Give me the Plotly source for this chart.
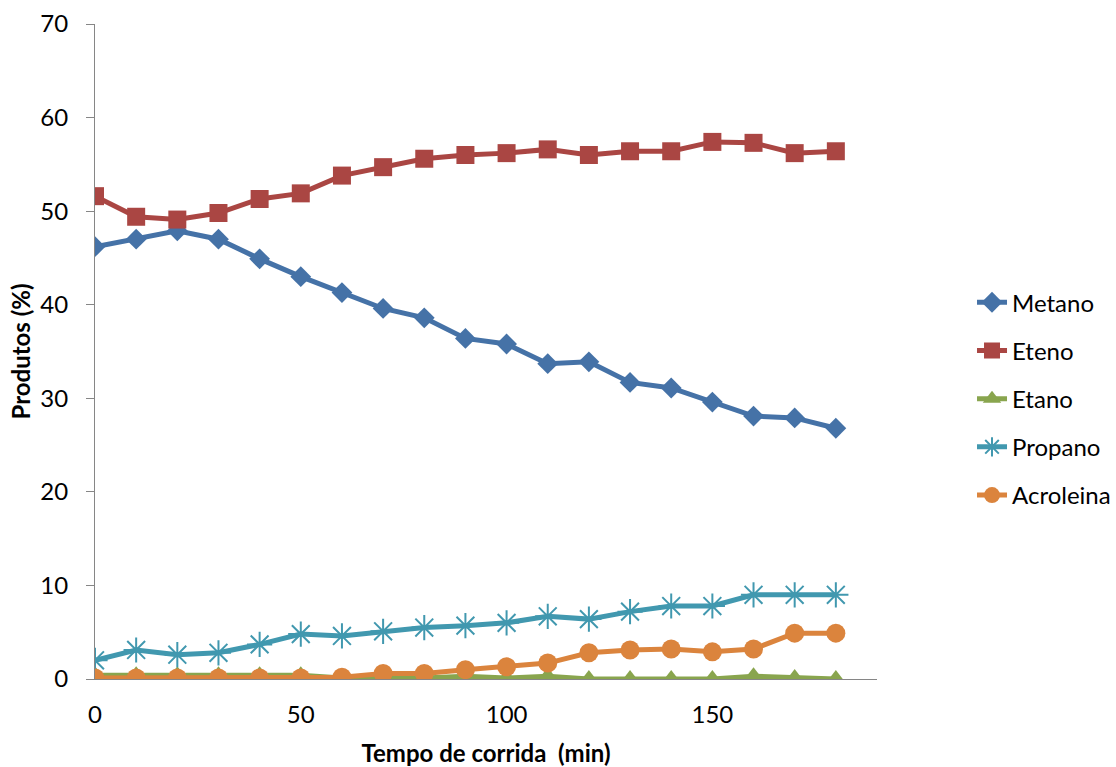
import plotly.graph_objects as go

tempo = [0, 10, 20, 30, 40, 50, 60, 70, 80, 90, 100, 110, 120, 130, 140, 150, 160, 170, 180]
metano = [46.2, 47.0, 47.9, 47.0, 44.9, 43.0, 41.3, 39.6, 38.6, 36.4, 35.8, 33.7, 33.9, 31.7, 31.1, 29.6, 28.1, 27.9, 26.8]
eteno = [51.6, 49.4, 49.1, 49.8, 51.3, 51.9, 53.8, 54.7, 55.6, 56.0, 56.2, 56.6, 56.0, 56.4, 56.4, 57.4, 57.3, 56.2, 56.4]
etano = [0.4, 0.4, 0.4, 0.4, 0.4, 0.4, 0.1, 0.1, 0.1, 0.3, 0.1, 0.3, 0.0, 0.0, 0.0, 0.0, 0.3, 0.1, 0.0]
propano = [2.0, 3.1, 2.6, 2.8, 3.7, 4.8, 4.6, 5.1, 5.5, 5.7, 6.0, 6.7, 6.4, 7.2, 7.8, 7.8, 9.0, 9.0, 9.0]
acroleina = [0.1, 0.1, 0.1, 0.1, 0.1, 0.1, 0.2, 0.6, 0.6, 1.0, 1.3, 1.7, 2.8, 3.1, 3.2, 2.9, 3.2, 4.9, 4.9]

x_ticks = [0, 50, 100, 150]
y_ticks = [0, 10, 20, 30, 40, 50, 60, 70]

series = [
    ("Metano", metano, "#4572A7", "diamond", 16, 0),
    ("Eteno", eteno, "#AA4643", "square", 18, 0),
    ("Etano", etano, "#89A54E", "triangle-up", 18, 0),
    ("Propano", propano, "#4198AF", "asterisk-open", 21, 2),
    ("Acroleina", acroleina, "#DB843D", "circle", 19, 0),
]

FONT = "Lato, 'Liberation Sans', sans-serif"

fig = go.Figure()
for i, (name, vals, color, sym, size, lw) in enumerate(series):
    marker = dict(symbol=sym, size=size, color=color)
    if lw:
        marker["line"] = dict(color=color, width=lw)
    fig.add_trace(go.Scatter(
        x=tempo, y=vals, name=name, mode="lines+markers",
        line=dict(color=color, width=5),
        marker=marker,
        legendgroup="g%d" % i,
    ))

fig.update_layout(
    width=1116, height=767,
    margin=dict(l=95, r=239, t=24, b=88, autoexpand=False),
    paper_bgcolor="white", plot_bgcolor="white",
    font=dict(family=FONT, size=24, color="#000000"),
    showlegend=True,
    legend=dict(
        x=1.1215, xanchor="left", y=0.428, yanchor="middle",
        font=dict(family=FONT, size=24, color="#000000"),
        tracegroupgap=14, traceorder="grouped",
        bgcolor="rgba(0,0,0,0)",
    ),
    xaxis=dict(
        range=[0, 190], tickvals=x_ticks, ticktext=[str(v) for v in x_ticks],
        showgrid=False, zeroline=False, showline=True, linecolor="#868686", linewidth=1,
        ticks="", ticklabelstandoff=14, automargin=False,
        tickfont=dict(family=FONT, size=24, color="#000000"),
        title=dict(text="<b>Tempo de corrida  (min)</b>", font=dict(family=FONT, size=24, color="#000000"), standoff=21),
    ),
    yaxis=dict(
        range=[0, 70], tickvals=y_ticks, ticktext=[str(v) for v in y_ticks],
        showgrid=False, zeroline=False, showline=True, linecolor="#868686", linewidth=1,
        ticks="outside", ticklen=8, tickcolor="#868686", ticklabelstandoff=13, automargin=False,
        tickfont=dict(family=FONT, size=24, color="#000000"),
        title=dict(text="<b>Produtos (%)</b>", font=dict(family=FONT, size=24, color="#000000"), standoff=2),
    ),
)

fig.write_html("out.html")
